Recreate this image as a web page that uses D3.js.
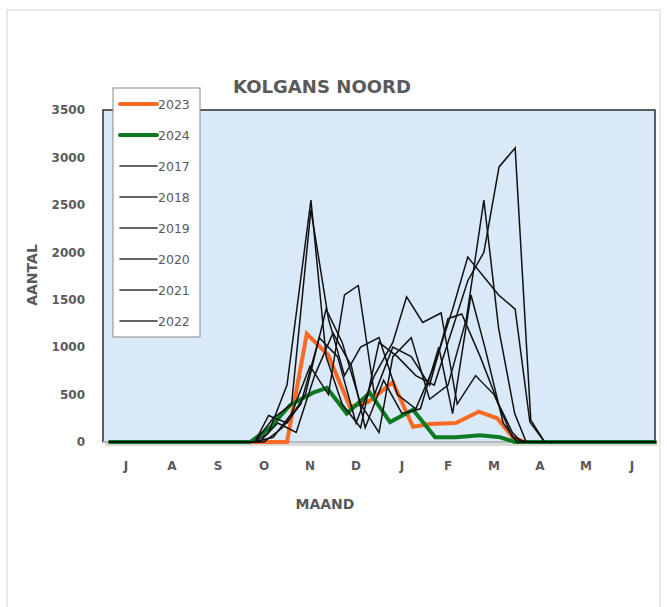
<!DOCTYPE html>
<html><head><meta charset="utf-8">
<script src="https://cdn.jsdelivr.net/npm/d3@7"></script>
<style>body{margin:0;background:#fff}svg{display:block}</style>
</head><body>
<svg id="c" width="667" height="607"></svg>
<script>
// months (Jul .. Jun), position unit = month index from 1 July
const months = ["J","A","S","O","N","D","J","F","M","A","M","J"];
const yTicks = [0,500,1000,1500,2000,2500,3000,3500];
const legendOrder = ["2023","2024","2017","2018","2019","2020","2021","2022"];

const s2023 = [[0.15,0],[3.59,0],[4.0,0],[4.43,1140],[4.89,920],[5.37,370],[5.76,420],[6.30,630],[6.74,160],[7.11,190],[7.67,200],[8.17,320],[8.57,250],[8.91,50],[9.17,0],[12,0]];
const s2024 = [[0.15,0],[3.2,0],[3.63,150],[4.07,390],[4.57,520],[4.87,570],[5.3,300],[5.8,520],[6.24,210],[6.74,340],[7.22,50],[7.67,50],[8.2,70],[8.63,50],[8.96,0],[12,0]];
const s2017 = [[0.15,0],[3.3,0],[3.6,100],[4.0,600],[4.52,2550],[4.85,900],[5.2,400],[5.6,150],[6.0,1050],[6.4,900],[6.8,700],[7.2,600],[7.6,1200],[7.93,1700],[8.28,2000],[8.61,2900],[8.96,3100],[9.3,230],[9.6,0],[12,0]];
const s2018 = [[0.15,0],[3.3,0],[3.7,250],[4.1,400],[4.52,2450],[4.9,1300],[5.25,700],[5.6,1000],[6.0,1100],[6.4,500],[6.8,350],[7.2,800],[7.6,1400],[7.93,1950],[8.6,1550],[8.96,1400],[9.28,210],[9.6,0],[12,0]];
const s2019 = [[0.15,0],[3.3,0],[3.6,280],[4.0,200],[4.4,500],[4.85,1400],[5.2,1050],[5.6,400],[6.0,100],[6.3,900],[6.7,1100],[7.1,450],[7.5,600],[7.9,1300],[8.28,2550],[8.6,1200],[8.95,300],[9.2,0],[12,0]];
const s2020 = [[0.15,0],[3.3,0],[3.7,50],[4.1,300],[4.5,800],[4.9,500],[5.25,1550],[5.55,1650],[5.9,500],[6.3,1000],[6.7,900],[7.1,600],[7.5,1300],[7.8,1350],[8.2,900],[8.6,400],[8.9,100],[9.1,0],[12,0]];
const s2021 = [[0.15,0],[3.5,0],[3.9,150],[4.3,400],[4.7,1100],[5.1,900],[5.5,200],[5.9,700],[6.3,1050],[6.6,1530],[6.95,1260],[7.35,1360],[7.7,400],[8.1,700],[8.5,500],[8.9,50],[9.2,0],[12,0]];
const s2022 = [[0.15,0],[3.4,0],[3.8,200],[4.2,100],[4.6,700],[5.0,1150],[5.4,800],[5.7,150],[6.1,650],[6.5,300],[6.9,350],[7.3,1000],[7.6,300],[8.0,1550],[8.3,1000],[8.7,200],[9.0,0],[12,0]];

const series = {"2023":s2023,"2024":s2024,"2017":s2017,"2018":s2018,"2019":s2019,"2020":s2020,"2021":s2021,"2022":s2022};
const colors = {"2023":"#fb6a22","2024":"#0c7a21"};
const widths = {"2023":4,"2024":4};

const svg = d3.select("#c");
const L=103,R=655,T=110,B=442;
const gray="#5a5a5a";
const font="'DejaVu Sans', sans-serif";

// outer frame
svg.append("rect").attr("x",7).attr("y",10).attr("width",653).attr("height",640)
  .attr("fill","none").attr("stroke","#d4d4d4").attr("stroke-width",1);

const x = d3.scaleLinear().domain([0,12]).range([L,R]);
const xb = d3.scaleBand().domain(d3.range(12)).range([L,R]);
const y = d3.scaleLinear().domain([0,3500]).range([B,T]);

// shadow
svg.append("rect").attr("x",L+2).attr("y",B).attr("width",R-L).attr("height",4).attr("fill","#d9d9d9");
// plot background
svg.append("rect").attr("x",L).attr("y",T).attr("width",R-L).attr("height",B-T)
  .attr("fill","#d9e9f7").attr("stroke","#3a3a3a").attr("stroke-width",1.6);
svg.append("line").attr("x1",L).attr("x2",R).attr("y1",B).attr("y2",B).attr("stroke","#b8bcc0").attr("stroke-width",2);

// title
svg.append("text").attr("x",322).attr("y",93).attr("text-anchor","middle")
  .attr("font-family",font).attr("font-weight","bold").attr("font-size",17).attr("fill",gray)
  .attr("textLength",178).attr("lengthAdjust","spacingAndGlyphs").text("KOLGANS NOORD");

// y axis
const ya = svg.append("g").attr("transform",`translate(${L},0)`)
  .call(d3.axisLeft(y).tickValues(yTicks).tickFormat(d3.format("d")).tickSize(0).tickPadding(18));
ya.select(".domain").remove();
ya.selectAll("text").attr("font-family",font).attr("font-weight","bold").attr("font-size",12).attr("fill",gray);

// x axis
const xa = svg.append("g").attr("transform",`translate(0,${B})`)
  .call(d3.axisBottom(xb).tickFormat(i=>months[i]).tickSize(0).tickPadding(19));
xa.select(".domain").remove();
xa.selectAll("text").attr("font-family",font).attr("font-weight","bold").attr("font-size",12).attr("fill",gray);

svg.append("text").attr("x",325).attr("y",509).attr("text-anchor","middle")
  .attr("font-family",font).attr("font-weight","bold").attr("font-size",14).attr("fill",gray).text("MAAND");
svg.append("text").attr("transform","translate(37,275) rotate(-90)").attr("text-anchor","middle")
  .attr("font-family",font).attr("font-weight","bold").attr("font-size",14).attr("fill",gray).text("AANTAL");

// lines
const line = d3.line().x(d=>x(d[0])).y(d=>y(d[1]));
const drawOrder = ["2023","2024","2017","2018","2019","2020","2021","2022"];
const g = svg.append("g");
drawOrder.forEach(k=>{
  g.append("path").datum(series[k]).attr("d",line).attr("fill","none")
   .attr("stroke",colors[k]||"#111").attr("stroke-width",widths[k]||1.5)
   .attr("stroke-linejoin","miter").attr("stroke-linecap","round");
});

// legend
const lg = svg.append("g");
lg.append("rect").attr("x",113).attr("y",88).attr("width",87).attr("height",249)
  .attr("fill","#fff").attr("stroke","#8a8a8a").attr("stroke-width",1);
legendOrder.forEach((k,i)=>{
  const yy = 104 + i*31;
  lg.append("line").attr("x1",120).attr("x2",157).attr("y1",yy).attr("y2",yy)
    .attr("stroke",colors[k]||"#333").attr("stroke-width",widths[k]||1.6).attr("stroke-linecap","round");
  lg.append("text").attr("x",158).attr("y",yy+4.5).attr("font-family",font).attr("font-size",12.5)
    .attr("fill",gray).text(k);
});
</script>
</body></html>
